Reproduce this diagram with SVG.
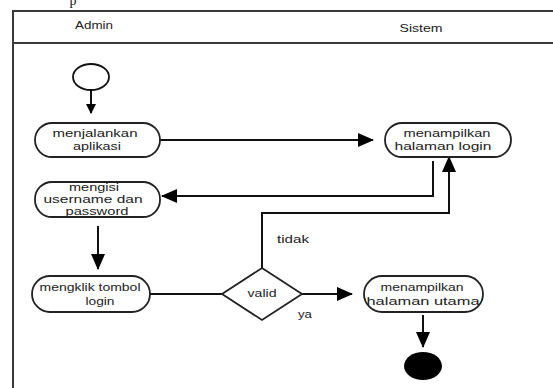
<svg xmlns="http://www.w3.org/2000/svg" width="553" height="388" viewBox="0 0 553 388">
<defs>
<marker id="ah" markerWidth="10" markerHeight="10" refX="9" refY="5" orient="auto" markerUnits="userSpaceOnUse" viewBox="0 0 10 10">
<path d="M0,0 L10,5 L0,10 Z" fill="#000"/>
</marker>
<marker id="ahb" markerWidth="16" markerHeight="14" refX="15" refY="7" orient="auto" markerUnits="userSpaceOnUse" viewBox="0 0 16 14">
<path d="M0,0 L16,7 L0,14 Z" fill="#000"/>
</marker>
</defs>
<style>
.frame{fill:none;stroke:#3a3a3a;stroke-width:2}
.node{fill:#fff;stroke:#222;stroke-width:1.8}
.t{font-family:"Liberation Sans",Arial,sans-serif;font-size:11px;fill:#222;text-anchor:middle}
.h{font-family:"Liberation Sans",Arial,sans-serif;font-size:11px;fill:#222;text-anchor:middle}
.c{fill:none;stroke:#111;stroke-width:2}
</style>
<rect width="553" height="388" fill="#fff"/>
<text x="73" y="5" font-family="Liberation Serif,serif" font-size="14" fill="#111" text-anchor="middle">p</text>
<g id="frame">
<path class="frame" d="M13,400 L13,11 L560,11 M13,43 L560,43"/>
<text class="h" x="94" y="29" textLength="38" lengthAdjust="spacingAndGlyphs">Admin</text>
<text class="h" x="421" y="32" textLength="43" lengthAdjust="spacingAndGlyphs">Sistem</text>
</g>
<g id="connectors">
<line class="c" x1="91" y1="90" x2="91" y2="113" marker-end="url(#ah)"/>
<line class="c" x1="160" y1="140" x2="373" y2="140" marker-end="url(#ahb)"/>
<polyline class="c" points="433,161 433,196 162,196" marker-end="url(#ahb)"/>
<line class="c" x1="98" y1="226" x2="98" y2="269" marker-end="url(#ahb)"/>
<line class="c" x1="150" y1="294" x2="222" y2="294"/>
<polyline class="c" points="262,268 262,213 449,213 449,157" marker-end="url(#ahb)"/>
<line class="c" x1="302" y1="294" x2="352" y2="294" marker-end="url(#ahb)"/>
<line class="c" x1="423" y1="315" x2="423" y2="347" marker-end="url(#ahb)"/>
<text class="t" x="293" y="243" textLength="32" lengthAdjust="spacingAndGlyphs">tidak</text>
<text class="t" x="305" y="318" textLength="14" lengthAdjust="spacingAndGlyphs">ya</text>
</g>
<g id="start">
<ellipse cx="91" cy="77" rx="18" ry="13" fill="#fff" stroke="#111" stroke-width="1.8"/>
</g>
<g id="menjalankan">
<rect class="node" x="35" y="123" width="125" height="34" rx="17"/>
<text class="t" x="95" y="137" textLength="85" lengthAdjust="spacingAndGlyphs">menjalankan</text>
<text class="t" x="97" y="150" textLength="48" lengthAdjust="spacingAndGlyphs">aplikasi</text>
</g>
<g id="login">
<rect class="node" x="385" y="123" width="126" height="34" rx="17"/>
<text class="t" x="447" y="137" textLength="87" lengthAdjust="spacingAndGlyphs">menampilkan</text>
<text class="t" x="443" y="150" textLength="97" lengthAdjust="spacingAndGlyphs">halaman login</text>
</g>
<g id="mengisi">
<rect class="node" x="35" y="182" width="125" height="35" rx="17"/>
<text class="t" x="94" y="191" textLength="50" lengthAdjust="spacingAndGlyphs">mengisi</text>
<text class="t" x="93" y="203" textLength="99" lengthAdjust="spacingAndGlyphs">username dan</text>
<text class="t" x="97" y="215" textLength="63" lengthAdjust="spacingAndGlyphs">password</text>
</g>
<g id="mengklik">
<rect class="node" x="32" y="276" width="118" height="36" rx="18"/>
<text class="t" x="90" y="291" textLength="101" lengthAdjust="spacingAndGlyphs">mengklik tombol</text>
<text class="t" x="100" y="305" textLength="29" lengthAdjust="spacingAndGlyphs">login</text>
</g>
<g id="valid">
<polygon points="262,268 302,294 262,320 222,294" fill="#fff" stroke="#222" stroke-width="1.8"/>
<text class="t" x="262" y="297" textLength="29" lengthAdjust="spacingAndGlyphs">valid</text>
</g>
<g id="utama">
<rect class="node" x="364" y="276" width="119" height="36" rx="18"/>
<text class="t" x="422" y="291" textLength="83" lengthAdjust="spacingAndGlyphs">menampilkan</text>
<text class="t" x="423" y="305" textLength="113" lengthAdjust="spacingAndGlyphs">halaman utama</text>
</g>
<g id="end">
<ellipse cx="423" cy="366" rx="19" ry="14" fill="#000"/>
</g>
</svg>
